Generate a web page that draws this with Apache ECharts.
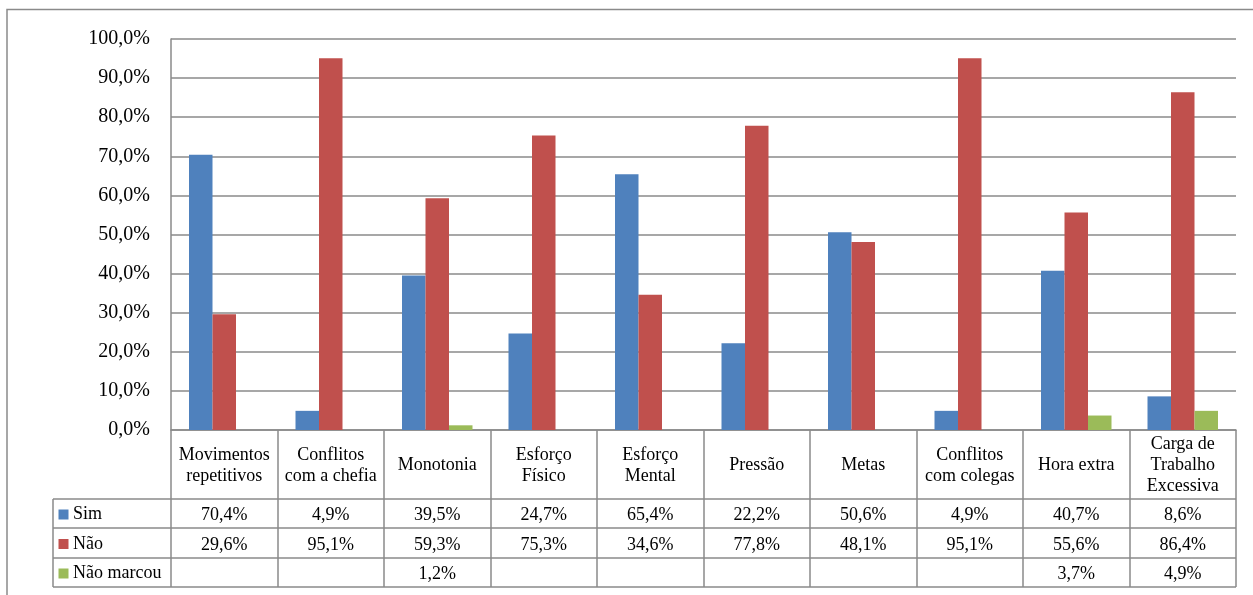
<!DOCTYPE html>
<html>
<head>
<meta charset="utf-8">
<script src="https://cdn.jsdelivr.net/npm/echarts@6/dist/echarts.min.js"></script>
<style>
  html, body { margin: 0; padding: 0; background: #fff; }
  #chart { width: 1253px; height: 595px; }
</style>
</head>
<body>
<div id="chart"></div>
<script>
// categorias e valores (%)
const categorias = ['Movimentos\nrepetitivos', 'Conflitos\ncom a chefia', 'Monotonia', 'Esforço\nFísico', 'Esforço\nMental',
  'Pressão', 'Metas', 'Conflitos\ncom colegas', 'Hora extra', 'Carga de\nTrabalho\nExcessiva'];
const sim = [70.4, 4.9, 39.5, 24.7, 65.4, 22.2, 50.6, 4.9, 40.7, 8.6];
const nao = [29.6, 95.1, 59.3, 75.3, 34.6, 77.8, 48.1, 95.1, 55.6, 86.4];
const naoMarcou = [null, null, 1.2, null, null, null, null, null, 3.7, 4.9];
const serieNomes = ['Sim', 'Não', 'Não marcou'];
const cores = ['#4F81BD', '#C0504D', '#9BBB59'];

const fonte = 'Liberation Serif';
const cinza = '#8a8a8a';

function fmt(v) {
  if (v == null) return '';
  return v.toFixed(1).replace('.', ',') + '%';
}

// linhas da tabela de dados (abaixo do eixo)
function tabelaAxis(valores, margem) {
  return {
    type: 'category',
    data: categorias,
    position: 'bottom',
    gridIndex: 0,
    axisLine: { show: false },
    axisTick: { show: false },
    axisLabel: {
      interval: 0,
      margin: margem,
      verticalAlign: 'middle',
      fontFamily: fonte,
      fontSize: 18,
      color: '#000',
      formatter: (val, idx) => fmt(valores[idx])
    }
  };
}

const myChart = echarts.init(document.getElementById('chart'));

const seriesList = [sim, nao, naoMarcou].map((d, i) => ({
  name: serieNomes[i],
  type: 'bar',
  data: d,
  barWidth: 23.5,
  barGap: '0%',
  itemStyle: { color: cores[i] }
}));

// legenda da tabela (coluna da esquerda)
const linhasY = [514.5, 544, 573.5];
const legenda = [];
serieNomes.forEach((nome, i) => {
  legenda.push({ type: 'rect', shape: { x: 58.5, y: linhasY[i] - 5, width: 10, height: 10 }, style: { fill: cores[i] } });
  legenda.push({
    type: 'text',
    x: 73, y: linhasY[i],
    style: { text: nome, fontFamily: fonte, fontSize: 18, fill: '#000', verticalAlign: 'middle', align: 'left' }
  });
});

myChart.setOption({
  animation: false,
  textStyle: { fontFamily: fonte },
  grid: { left: 171, right: 17, top: 39, bottom: 165, containLabel: false },
  xAxis: [
    {
      type: 'category',
      data: categorias,
      axisLine: { lineStyle: { color: cinza, width: 1.5 } },
      axisTick: { show: true, length: 157, lineStyle: { color: cinza, width: 1.5 } },
      axisLabel: {
        interval: 0,
        margin: 35.5,
        verticalAlign: 'middle',
        fontFamily: fonte,
        fontSize: 18,
        lineHeight: 21,
        color: '#000'
      }
    },
    tabelaAxis(sim, 85.5),
    tabelaAxis(nao, 115),
    tabelaAxis(naoMarcou, 144)
  ],
  yAxis: {
    type: 'value',
    min: 0,
    max: 100,
    interval: 10,
    axisLine: { show: true, lineStyle: { color: cinza, width: 1.5 } },
    axisTick: { show: false },
    splitLine: { lineStyle: { color: cinza, width: 1.5 } },
    axisLabel: {
      margin: 21,
      fontFamily: fonte,
      fontSize: 20,
      color: '#000',
      formatter: v => fmt(v)
    }
  },
  graphic: [
    // borda externa
    { type: 'polyline', shape: { points: [[7, 595], [7, 9.5], [1253, 9.5]] }, style: { stroke: cinza, lineWidth: 1.5, fill: null } },
    // linhas horizontais da tabela
    { type: 'line', shape: { x1: 53, y1: 499, x2: 1236, y2: 499 }, style: { stroke: cinza, lineWidth: 1.5 } },
    { type: 'line', shape: { x1: 53, y1: 528, x2: 1236, y2: 528 }, style: { stroke: cinza, lineWidth: 1.5 } },
    { type: 'line', shape: { x1: 53, y1: 558, x2: 1236, y2: 558 }, style: { stroke: cinza, lineWidth: 1.5 } },
    { type: 'line', shape: { x1: 53, y1: 587, x2: 1236, y2: 587 }, style: { stroke: cinza, lineWidth: 1.5 } },
    { type: 'line', shape: { x1: 53, y1: 499, x2: 53, y2: 587 }, style: { stroke: cinza, lineWidth: 1.5 } }
  ].concat(legenda),
  series: seriesList
});
</script>
</body>
</html>
